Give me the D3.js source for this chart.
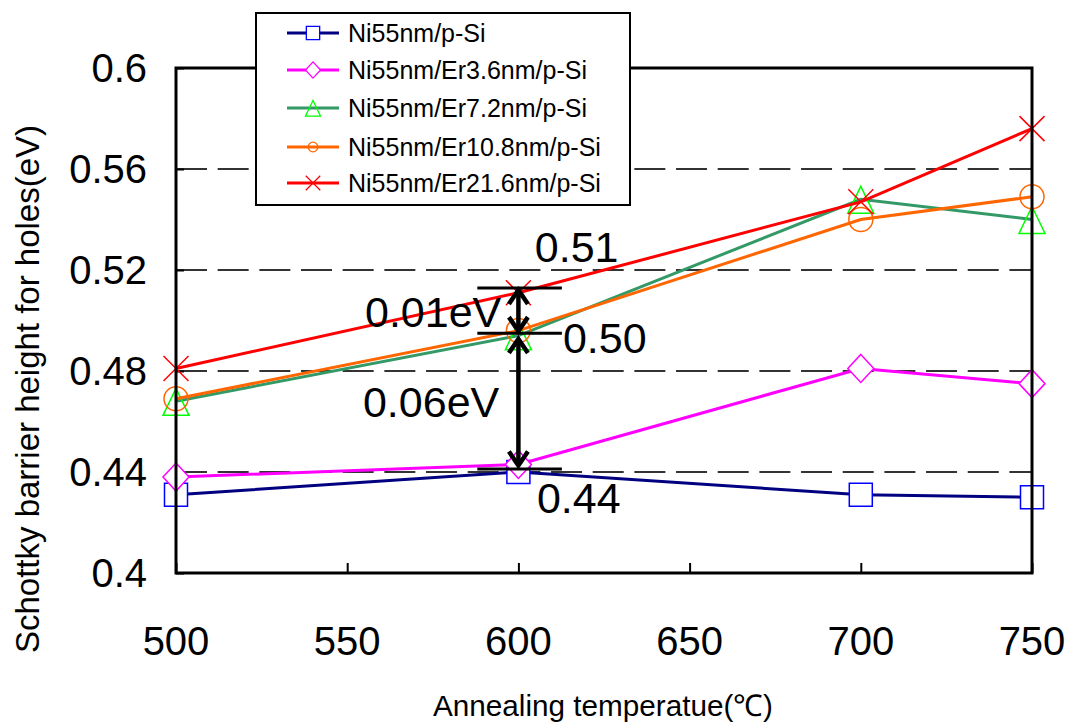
<!DOCTYPE html>
<html>
<head>
<meta charset="utf-8">
<script src="https://cdn.jsdelivr.net/npm/d3@7"></script>
<style>
  html, body { margin: 0; padding: 0; background: #fff; }
  svg { display: block; font-family: "Liberation Sans", Arial, sans-serif; }
</style>
</head>
<body>
<svg id="chart" width="1068" height="723"></svg>
<script>
// ---- data ----
const temperatures = [500, 600, 700, 750];
const seriesNames = ["Ni55nm/p-Si", "Ni55nm/Er3.6nm/p-Si", "Ni55nm/Er7.2nm/p-Si", "Ni55nm/Er10.8nm/p-Si", "Ni55nm/Er21.6nm/p-Si"];
const ni55 = [0.431, 0.440, 0.431, 0.430];
const er36 = [0.438, 0.443, 0.481, 0.475];
const er72 = [0.468, 0.494, 0.548, 0.540];
const er108 = [0.469, 0.496, 0.540, 0.549];
const er216 = [0.481, 0.511, 0.547, 0.576];
const xTicks = [500, 550, 600, 650, 700, 750];
const yTicks = [0.4, 0.44, 0.48, 0.52, 0.56, 0.6];
const yTickLabels = ["0.4", "0.44", "0.48", "0.52", "0.56", "0.6"];
const gridValues = [0.44, 0.48, 0.52, 0.56];
const xTitle = "Annealing temperatue(\u2103)";
const yTitle = "Schottky barrier height for holes(eV)";
// annotation (data units)
const annLevels = [0.5129, 0.4950, 0.4412];
const annLevelX = [588, 612.7];
const annArrowX = 600;
const annArrows = [[0.5129, 0.4950], [0.4935, 0.4418]];
const annTexts = ["0.51", "0.01eV", "0.50", "0.06eV", "0.44"];
const annTextX = [604.8, 555.2, 613.0, 554.6, 605.4];
const annTextY = [0.5232, 0.4974, 0.4871, 0.4618, 0.4238];

// ---- styles ----
const lineColors = ["#000080", "#FF00FF", "#339966", "#FF6600", "#FF0000"];
const markColors = ["#0000FF", "#FF00FF", "#00FF00", "#FF6600", "#FF0000"];
const markTypes = ["square", "diamond", "triangle", "circle", "x"];
const seriesValues = [ni55, er36, er72, er108, er216];

const svg = d3.select("#chart");
const pL = 176, pR = 1032, pT = 68, pB = 573;
const x = d3.scaleLinear().domain([500, 750]).range([pL, pR]);
const y = d3.scaleLinear().domain([0.4, 0.6]).range([pB, pT]);

// gridlines
svg.append("g").selectAll("line").data(gridValues).join("line")
  .attr("x1", pL).attr("x2", pR)
  .attr("y1", d => y(d)).attr("y2", d => y(d))
  .attr("stroke", "#333").attr("stroke-width", 2)
  .attr("stroke-dasharray", "31,10.67");

// axes via d3 axis
const xAxis = d3.axisBottom(x).tickValues(xTicks).tickSize(-10).tickFormat("");
const gx = svg.append("g").attr("transform", `translate(0,${pB})`).call(xAxis);
gx.select(".domain").remove();
gx.selectAll(".tick line").attr("stroke", "#000").attr("stroke-width", 2);
const yAxis = d3.axisLeft(y).tickValues(yTicks).tickSize(-8).tickFormat("");
const gy = svg.append("g").attr("transform", `translate(${pL},0)`).call(yAxis);
gy.select(".domain").remove();
gy.selectAll(".tick line").attr("stroke", "#000").attr("stroke-width", 2);

// tick labels
svg.append("g").selectAll("text").data(xTicks).join("text")
  .attr("x", d => x(d)).attr("y", 655)
  .attr("text-anchor", "middle").attr("font-size", 40).attr("fill", "#000")
  .text(d => d);
svg.append("g").selectAll("text").data(yTicks).join("text")
  .attr("x", 147).attr("y", d => y(d) + 14)
  .attr("text-anchor", "end").attr("font-size", 40).attr("fill", "#000")
  .text((d, i) => yTickLabels[i]);

// axis titles
svg.append("text").attr("x", 603).attr("y", 716)
  .attr("text-anchor", "middle").attr("font-size", 30)
  .attr("textLength", 340).attr("lengthAdjust", "spacingAndGlyphs")
  .text(xTitle);
svg.append("text").attr("transform", "translate(39,389) rotate(-90)")
  .attr("text-anchor", "middle").attr("font-size", 33)
  .attr("textLength", 528).attr("lengthAdjust", "spacingAndGlyphs")
  .text(yTitle);

// marker path generator
function markerPath(type, s) {
  const p = d3.path();
  if (type === "square") {
    const h = 11.5 * s; p.rect(-h, -h, 2 * h, 2 * h);
  } else if (type === "diamond") {
    const w = 13 * s, hh = 14 * s;
    p.moveTo(0, -hh); p.lineTo(w, 0); p.lineTo(0, hh); p.lineTo(-w, 0); p.closePath();
  } else if (type === "triangle") {
    const w = 13 * s;
    p.moveTo(0, -13 * s); p.lineTo(w, 14 * s); p.lineTo(-w, 14 * s); p.closePath();
  } else if (type === "circle") {
    const r = 12 * s; p.moveTo(r, 0); p.arc(0, 0, r, 0, 2 * Math.PI);
  } else {
    const h = 12.5 * s;
    p.moveTo(-h, -h); p.lineTo(h, h); p.moveTo(h, -h); p.lineTo(-h, h);
  }
  return p.toString();
}
const markFill = t => (t === "square" || t === "diamond") ? "#fff" : "none";

// series lines and markers
const line = d3.line().x((d, i) => x(temperatures[i])).y(d => y(d));
seriesValues.forEach((vals, si) => {
  const g = svg.append("g");
  g.append("path").datum(vals).attr("d", line)
    .attr("fill", "none").attr("stroke", lineColors[si]).attr("stroke-width", 3);
  g.selectAll("path.m").data(vals).join("path").attr("class", "m")
    .attr("transform", (d, i) => `translate(${x(temperatures[i])},${y(d)})`)
    .attr("d", markerPath(markTypes[si], 1))
    .attr("fill", markFill(markTypes[si]))
    .attr("stroke", markColors[si]).attr("stroke-width", 1.5);
});

// annotation level lines
svg.append("g").selectAll("line").data(annLevels).join("line")
  .attr("x1", x(annLevelX[0])).attr("x2", x(annLevelX[1]))
  .attr("y1", d => y(d)).attr("y2", d => y(d))
  .attr("stroke", "#000").attr("stroke-width", 3);

// double arrows
const ag = svg.append("g").attr("stroke", "#000").attr("fill", "none")
  .attr("stroke-width", 4.5).attr("stroke-linejoin", "miter");
annArrows.forEach(([v1, v2]) => {
  const ax = x(annArrowX), y1 = y(v1), y2 = y(v2);
  ag.append("line").attr("x1", ax).attr("x2", ax).attr("y1", y1 + 3).attr("y2", y2 - 3);
  const hw = 9.5, hl = 16;
  ag.append("path").attr("d", `M${ax - hw},${y1 + hl} L${ax},${y1 + 2} L${ax + hw},${y1 + hl}`);
  ag.append("path").attr("d", `M${ax - hw},${y2 - hl} L${ax},${y2 - 2} L${ax + hw},${y2 - hl}`);
});

// annotation texts
svg.append("g").selectAll("text").data(annTexts).join("text")
  .attr("x", (d, i) => x(annTextX[i])).attr("y", (d, i) => y(annTextY[i]))
  .attr("font-size", 43).attr("fill", "#000")
  .text(d => d);

// plot frame
svg.append("rect").attr("x", pL).attr("y", pT)
  .attr("width", pR - pL).attr("height", pB - pT)
  .attr("fill", "none").attr("stroke", "#000").attr("stroke-width", 3);

// legend
const lg = svg.append("g");
lg.append("rect").attr("x", 256).attr("y", 13).attr("width", 374).attr("height", 192)
  .attr("fill", "#fff").attr("stroke", "#000").attr("stroke-width", 2);
const legendRows = [33, 70, 108, 147, 183];
seriesNames.forEach((name, si) => {
  const ly = legendRows[si];
  lg.append("line").attr("x1", 287).attr("x2", 339).attr("y1", ly).attr("y2", ly)
    .attr("stroke", lineColors[si]).attr("stroke-width", 3);
  lg.append("path").attr("transform", `translate(313,${ly})`)
    .attr("d", markerPath(markTypes[si], markTypes[si] === "circle" ? 0.4 : 0.58))
    .attr("fill", markFill(markTypes[si]))
    .attr("stroke", markColors[si]).attr("stroke-width", 1.3);
  lg.append("text").attr("x", 348).attr("y", ly + 9)
    .attr("font-size", 25).attr("fill", "#000").text(name);
});
</script>
</body>
</html>
